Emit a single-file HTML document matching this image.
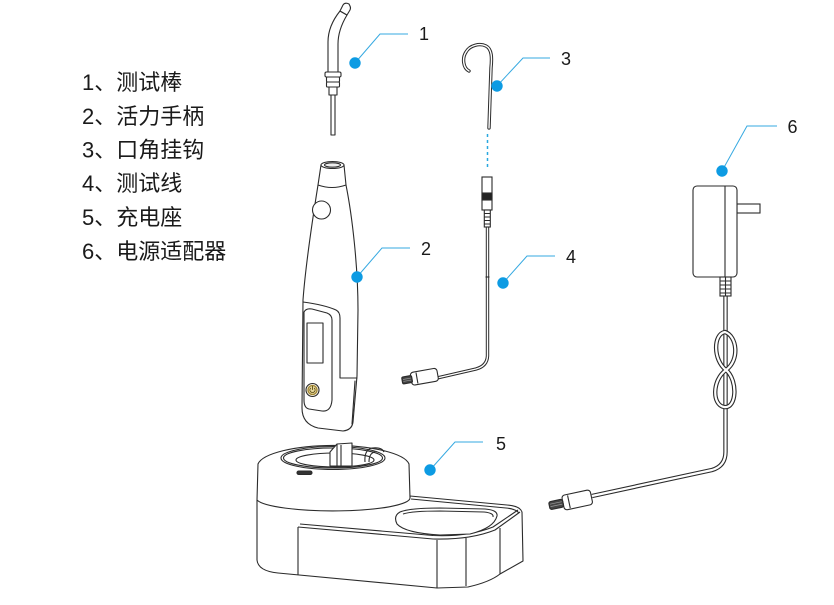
<!DOCTYPE html>
<html><head><meta charset="utf-8">
<style>
html,body{margin:0;padding:0;background:#fff;}
svg{display:block;}
.l{font-family:"Liberation Sans","Noto Sans CJK SC",sans-serif;font-size:22px;fill:#1a1a1a;}
.n{font-family:"Liberation Sans",sans-serif;font-size:18px;fill:#1a1a1a;text-anchor:middle;}
</style></head><body>
<svg width="834" height="605" viewBox="0 0 834 605" xmlns="http://www.w3.org/2000/svg">
<rect width="834" height="605" fill="#fff"/>

<!-- legend -->
<text class="l" x="82" y="90">1、测试棒</text>
<text class="l" x="82" y="124">2、活力手柄</text>
<text class="l" x="82" y="157.5">3、口角挂钩</text>
<text class="l" x="82" y="191">4、测试线</text>
<text class="l" x="82" y="225">5、充电座</text>
<text class="l" x="82" y="259">6、电源适配器</text>

<g fill="#fff" stroke="#2b2b2b" stroke-width="1.1" stroke-linejoin="round" stroke-linecap="round">
<!-- probe -->
<path d="M340,11 Q328,26 328,42 L328,72 L338,72 L338,44 Q338,30 347,15 Z"/>
<path d="M340,11 L343,5 Q345,2 349,4 L350,6 Q351,8 350,10 L347,15 Z"/>
<rect x="325" y="72" width="16" height="5" rx="1.5"/>
<rect x="326.5" y="77" width="13" height="5" rx="1"/>
<rect x="326.5" y="82" width="13" height="5" rx="1"/>
<rect x="329" y="87" width="8" height="8"/>
<rect x="331" y="95" width="4" height="40"/>

<!-- handle -->
<path d="M318,185 C314,210 306,260 303,300 L302,408 Q302,424 318,428 L343,431 Q352,430 353,422 L357,376 L358,310 C358,265 352,215 346,185 Z"/>
<path d="M321,165 L318,185 Q332,190 346,185 L344,165 Z"/>
<ellipse cx="332.5" cy="165" rx="11.5" ry="3.5"/>
<ellipse cx="332.5" cy="165" rx="8" ry="2.2" fill="#eee"/>
<circle cx="321.5" cy="210" r="9"/>
<path d="M303,302 Q325,305 336,310 Q340,312 340,318 L340,378 L357,378" fill="none"/>
<path d="M355,381 L352,424" fill="none"/>
<path d="M304,312 Q306,308 312,309 L327,313 Q332,315 332,320 L332,400 Q331,412 322,411 L309,409 Q304,408 304,400 Z"/>
<rect x="307" y="323" width="16" height="40"/>
<circle cx="312.5" cy="390" r="6.5" fill="#f4efe0"/>
<circle cx="312.5" cy="390" r="4.5" fill="#e6d79c" stroke="#a08530" stroke-width="1.3"/>
<path d="M310.6,388.2 A2.6,2.6 0 1 0 314.4,388.2 M312.5,386.3 L312.5,389.5" fill="none" stroke="#5a4a10" stroke-width="0.9"/>
</g>

<!-- hook -->
<path d="M469,71 C463,68 462,58 466,52 C470,45 480,43 486,46 C492,49 492,58 491,68 L489,128" fill="none" stroke="#2b2b2b" stroke-width="3.4" stroke-linecap="round"/>
<path d="M469,71 C463,68 462,58 466,52 C470,45 480,43 486,46 C492,49 492,58 491,68 L489,128" fill="none" stroke="#fff" stroke-width="1.4" stroke-linecap="round"/>
<line x1="487.5" y1="134" x2="487.5" y2="170" stroke="#29a8e0" stroke-width="1.5" stroke-dasharray="3,3"/>

<!-- test lead cable -->
<path d="M487.5,226 L487.5,356 Q487,366 476,369 L437,378" fill="none" stroke="#2b2b2b" stroke-width="3.4"/>
<path d="M487.5,226 L487.5,356 Q487,366 476,369 L437,378" fill="none" stroke="#fff" stroke-width="1.4"/>
<g fill="#fff" stroke="#2b2b2b" stroke-width="1.1">
<rect x="482" y="177" width="10" height="33"/>
<rect x="482" y="193" width="10" height="7" fill="#222"/>
<rect x="484.3" y="210" width="6" height="17"/>
<path d="M484.3,213.5 H490.3 M484.3,217 H490.3 M484.3,220.5 H490.3 M484.3,224 H490.3" fill="none"/>
<path d="M485.5,277 H489.5" fill="none"/>
<g transform="rotate(-10 420 378)">
<rect x="411" y="371" width="27" height="13" rx="3"/>
<path d="M417,372 V383" fill="none"/>
<rect x="402" y="374" width="10" height="7" rx="1.5" fill="#444"/>
<path d="M403,376.5 H411 M403,378.5 H411" fill="none" stroke="#999" stroke-width="0.7"/>
</g>
</g>

<!-- adapter -->
<g fill="#fff" stroke="#2b2b2b" stroke-width="1.1">
<rect x="737" y="204" width="23" height="9"/>
<rect x="693" y="186" width="44" height="91" rx="4"/>
<line x1="725" y1="186" x2="725" y2="277"/>
</g>
<path d="M725.5,296 L725.5,452 Q725.5,466 712,470 L592,496" fill="none" stroke="#2b2b2b" stroke-width="4.4"/>
<path d="M725.5,296 L725.5,452 Q725.5,466 712,470 L592,496" fill="none" stroke="#fff" stroke-width="2.2"/>
<path d="M725,332 C737,336 740,360 726,370 C712,380 712,405 724,407 C737,409 738,380 726,370 C713,360 713,334 725,332 Z" fill="none" stroke="#2b2b2b" stroke-width="4.4"/>
<path d="M725,332 C737,336 740,360 726,370 C712,380 712,405 724,407 C737,409 738,380 726,370 C713,360 713,334 725,332 Z" fill="none" stroke="#fff" stroke-width="2.2"/>
<g fill="#fff" stroke="#2b2b2b" stroke-width="1.1">
<rect x="720" y="277" width="11" height="19"/>
<path d="M725.5,277 V296 M720,281 H731 M720,285 H731 M720,289 H731 M720,293 H731" fill="none"/>
<g transform="rotate(-12 570 502)">
<rect x="563" y="494" width="29" height="15" rx="3"/>
<path d="M569,495 V508" fill="none"/>
<rect x="549" y="497.5" width="14" height="8" rx="2" fill="#444"/>
<path d="M550,500 H562 M550,502.5 H562" fill="none" stroke="#999" stroke-width="0.7"/>
</g>
</g>

<!-- base -->
<g fill="#fff" stroke="#2b2b2b" stroke-width="1.1" stroke-linejoin="round">
<path d="M257,500 L257,560 Q258,571 278,573 L437,588 L468,587 Q490,582 500,574 L523,561 L522,512 Q520,506 507,505 L410,496 L410,498 Z"/>
<path d="M411,499 L506,508 Q516,509 519,513" fill="none"/>
<path d="M298,527 L433,539 Q470,540 495,530 L520,512" fill="none"/>
<path d="M300,524 L433,535.5 Q468,537 493,527 L518,510" fill="none"/>
<path d="M400,512 Q410,508 440,508 L485,509 Q498,510 497,516 Q494,528 470,534 L440,535 Q405,533 397,524 Q393,516 400,512 Z"/>
<path d="M403,514 Q412,511 440,511 L484,512 Q494,513 493,517" fill="none"/>
<path d="M298,527 V575 M437,540 V588 M466,538 V586 M500,528 V574" fill="none"/>
<path d="M258,464 A76,21 0 0 1 409,464 L410,498 A77,13 0 0 1 257,500 Z"/>
<ellipse cx="333" cy="458" rx="52" ry="11.5"/>
<ellipse cx="333" cy="458" rx="49.5" ry="10" fill="none"/>
<ellipse cx="335" cy="460" rx="39" ry="7" fill="none"/>
<path d="M330,466 L330,452 L337,444 L352,443 L352,466 Z"/>
<path d="M337,444 V467 M341,445 V467" fill="none"/>
<path d="M365,462 Q364,450 372,448 Q382,447 384,452" fill="none"/>
<path d="M369,462 Q369,453 375,452" fill="none"/>
<rect x="297" y="471" width="15" height="3.5" rx="1.75" fill="#333"/>
</g>

<!-- callouts -->
<g stroke="#36a9e1" stroke-width="1" fill="none">
<polyline points="355,63 380,34 408,34"/>
<polyline points="357,277 382,248 410,248"/>
<polyline points="497,86 523,58 550,58"/>
<polyline points="503,283 527,256 555,256"/>
<polyline points="430,470 455,442 483,442"/>
<polyline points="722,171 747,126 777,126"/>
</g>
<g fill="#0d9be3">
<circle cx="355" cy="63" r="5.7"/>
<circle cx="357" cy="277" r="5.7"/>
<circle cx="497" cy="86" r="5.7"/>
<circle cx="503" cy="283" r="5.7"/>
<circle cx="430" cy="470" r="5.7"/>
<circle cx="722" cy="171" r="5.7"/>
</g>
<text class="n" x="424" y="40">1</text>
<text class="n" x="426" y="255">2</text>
<text class="n" x="566" y="65">3</text>
<text class="n" x="571" y="263">4</text>
<text class="n" x="501" y="450">5</text>
<text class="n" x="792.5" y="133">6</text>
</svg>
</body></html>
